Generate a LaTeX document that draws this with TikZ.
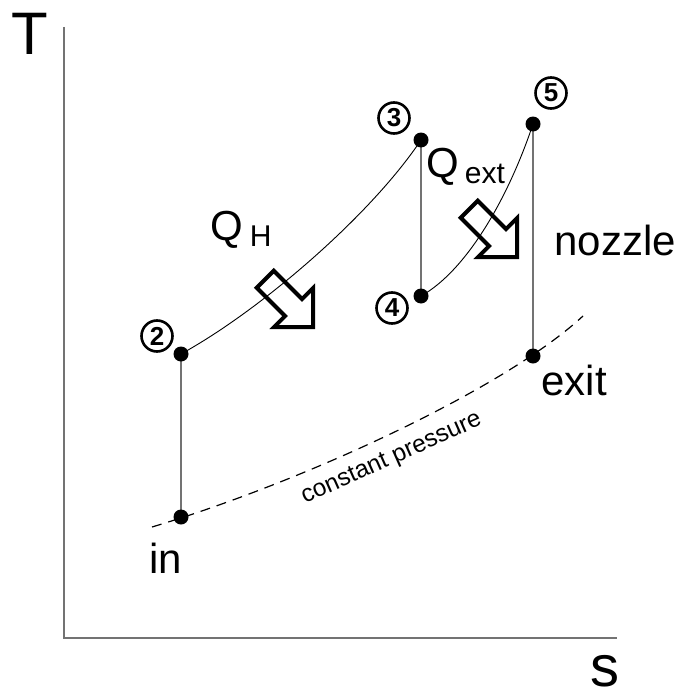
\documentclass[tikz,border=0pt]{standalone}
\usepackage{fontspec}
\setmainfont{Liberation Sans}
\usetikzlibrary{backgrounds}
\begin{document}
\begin{tikzpicture}[x=1pt,y=-1pt,
  axis/.style={draw=black!55, line width=1.3pt},
  vline/.style={draw=black!55, line width=1.3pt},
  proc/.style={draw=black, line width=0.9pt},
  dot/.style={circle, fill=black, inner sep=0pt, minimum size=15pt},
  num/.style={circle, draw=black, line width=2.6pt, inner sep=0pt, minimum size=31pt, font=\fontsize{26}{26}\selectfont\bfseries},
  lbl/.style={anchor=base, inner sep=0pt, font=\fontsize{42}{42}\selectfont},
  heatarrow/.style={draw=black, line width=4pt, line join=miter},
  isobar/.style={draw=black, line width=1.2pt, dash pattern=on 10pt off 7pt}]
\useasboundingbox (0,0) rectangle (684,693);
% state points
\node[dot] (p2) at (181,354) {};
\node[dot] (pin) at (181,517) {};
\node[dot] (p3) at (421,140) {};
\node[dot] (p4) at (421,296) {};
\node[dot] (p5) at (533,124) {};
\node[dot] (pex) at (533,356) {};
% axes
\coordinate (org) at (64,638);
\coordinate (ytop) at (64,27);
\coordinate (xend) at (617,638);
\coordinate (iso0) at (152,527);
\coordinate (iso1) at (583,316);
\begin{scope}[on background layer]
  \draw[axis] (ytop) -- (org) -- (xend);
  \draw[vline] (pin.center) -- (p2.center);
  \draw[vline] (p3.center) -- (p4.center);
  \draw[vline] (p5.center) -- (pex.center);
  \draw[proc] (p2.center) .. controls (261,310) and (371,215) .. (p3.center);
  \draw[proc] (p4.center) .. controls (466,271) and (508,199) .. (p5.center);
  \draw[isobar] (iso0) .. controls (302,482) and (503,390) .. (iso1);
\end{scope}
% heat arrows
\draw[heatarrow, shift={(313,327)}, rotate=-45] (0,0) -- (-27.5,27.5) -- (-27.5,12) -- (-67.5,12) -- (-67.5,-12) -- (-27.5,-12) -- (-27.5,-27.5) -- cycle;
\draw[heatarrow, shift={(517,257)}, rotate=-45] (0,0) -- (-27.5,27.5) -- (-27.5,12) -- (-67.5,12) -- (-67.5,-12) -- (-27.5,-12) -- (-27.5,-27.5) -- cycle;
% labels
\node[lbl, font=\fontsize{60}{60}\selectfont] (T) at (30,55) {T};
\node[lbl, font=\fontsize{58}{58}\selectfont] (S) at (605,686) {s};
\node[lbl] (noz) at (615,255) {nozzle};
\node[lbl] (ex) at (574,395) {exit};
\node[lbl] (inl) at (166,573) {in};
\node[anchor=base west, inner sep=0pt, font=\fontsize{42}{42}\selectfont] (qh) at (210,240) {Q\hspace{7pt}\raisebox{-6pt}{\fontsize{30}{30}\selectfont H}};
\node[anchor=base west, inner sep=0pt, font=\fontsize{42}{42}\selectfont] (qx) at (426,177) {Q\hspace{6pt}\raisebox{-6pt}{\fontsize{30}{30}\selectfont ext}};
\node[anchor=base, inner sep=0pt, rotate=24, font=\fontsize{24.5}{24.5}\selectfont] (cp) at (394,464) {constant pressure};
% state numbers
\node[num] (n2) at (157,336) {2};
\node[num] (n3) at (394,118) {3};
\node[num] (n4) at (392,308) {4};
\node[num] (n5) at (551,93) {5};
\end{tikzpicture}
\end{document}
